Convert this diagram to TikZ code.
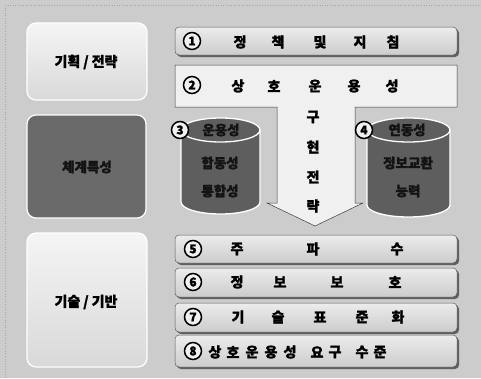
\documentclass[tikz,border=0pt]{standalone}
\usepackage{fontspec}
\newfontfamily\kr{Noto Sans CJK KR}[FakeBold=1.5]
\begin{document}
\begin{tikzpicture}[x=1pt,y=-1pt,
  lightbox/.style={rounded corners=9pt, top color=gray!8, bottom color=gray!30, draw=white, line width=1.2pt},
  darkbox/.style={rounded corners=9pt, fill=gray!70!black!90, draw=white, line width=1.2pt},
  bar/.style={rounded corners=4pt, top color=gray!15, bottom color=gray!40, draw=gray!70!black, line width=0.5pt},
  shadowbar/.style={rounded corners=4pt, fill=gray!75!black},
  cyl/.style={fill=gray!60!black!90, draw=white, line width=1.3pt},
  txt/.style={font=\kr\bfseries\fontsize{14}{16}\selectfont, inner sep=0pt},
  wtxt/.style={font=\kr\bfseries\fontsize{13.5}{15}\selectfont, inner sep=0pt, text=gray!15!black},
  num/.style={circle, fill=gray!12, draw=black, line width=1.5pt, minimum size=17pt, inner sep=0pt, font=\kr\bfseries\fontsize{12}{13}\selectfont},
]
\useasboundingbox (0,0) rectangle (481,378);
\fill[gray!40] (0,0) rectangle (481,378);
\draw[gray!70, dotted, line width=0.6pt] (5,5) -- (481,5);
\draw[gray!70, dotted, line width=0.6pt] (5,5) -- (5,378);

% left boxes
\draw[lightbox] (27,23) rectangle (147,100);
\node[txt] (lb1) at (86,62) {기획\hspace{3pt}/\hspace{3pt}전략};
\draw[darkbox] (27,115) rectangle (146,218);
\node[wtxt] (lb2) at (87,167) {체계특성};
\draw[lightbox] (27,233) rectangle (147,367);
\node[txt] (lb3) at (86,302) {기술\hspace{3pt}/\hspace{3pt}기반};

% bar 1
\fill[shadowbar] (177,29) rectangle (459,57);
\draw[bar] (175,27) rectangle (457,55);
\node[num] (n1) at (192,41) {1};
\node[txt] at (240,42) {정};
\node[txt] at (278,42) {책};
\node[txt] at (320,42) {및};
\node[txt] at (360,42) {지};
\node[txt] at (393,42) {침};

% box 2 with arrow
\draw[fill=gray!12, draw=gray!45!black, line width=0.5pt]
  (175,65) -- (457,65) -- (457,107) -- (355,107) -- (355,203) -- (363,203)
  -- (315,226) -- (267,203) -- (277,203) -- (277,107) -- (175,107) -- cycle;
\node[num] (n2) at (192,85) {2};
\node[txt] at (238,86) {상};
\node[txt] at (274,86) {호};
\node[txt] at (315,86) {운};
\node[txt] at (354,86) {용};
\node[txt] at (392,86) {성};
\node[txt] (g1) at (313,117) {구};
\node[txt] (g2) at (313,147) {현};
\node[txt] (g3) at (313,177) {전};
\node[txt] (g4) at (313,206) {략};

% cylinder 3
\draw[cyl] (181,130) -- (181,202) arc[start angle=180, end angle=360, x radius=39.5pt, y radius=12pt] -- (260,130);
\draw[cyl] (220.5,130) ellipse[x radius=39.5pt, y radius=12pt];
\node[num] (n3) at (180,130) {3};
\node[wtxt] at (221,130) {운용성};
\node[wtxt] at (220,163) {합동성};
\node[wtxt] at (220,191) {통합성};

% cylinder 4
\draw[cyl] (367,130) -- (367,205) arc[start angle=180, end angle=360, x radius=41.5pt, y radius=12pt] -- (450,130);
\draw[cyl] (408.5,130) ellipse[x radius=41.5pt, y radius=12pt];
\node[num] (n4) at (364,130) {4};
\node[wtxt] at (407,130) {연동성};
\node[wtxt] at (408,163) {정보교환};
\node[wtxt] at (408,191) {능력};

% bars 5-8
\fill[shadowbar] (177,237) rectangle (459,265);
\draw[bar] (175,235) rectangle (457,263);
\node[num] (n5) at (193,249) {5};
\node[txt] at (237,249) {주};
\node[txt] at (313,249) {파};
\node[txt] at (397,249) {수};

\fill[shadowbar] (177,270) rectangle (459,299);
\draw[bar] (175,268) rectangle (457,297);
\node[num] (n6) at (193,282) {6};
\node[txt] at (237,282) {정};
\node[txt] at (280,282) {보};
\node[txt] at (337,282) {보};
\node[txt] at (395,282) {호};

\fill[shadowbar] (177,305) rectangle (459,334);
\draw[bar] (175,303) rectangle (457,332);
\node[num] (n7) at (193,317) {7};
\node[txt] at (238,317) {기};
\node[txt] at (278,317) {술};
\node[txt] at (320,317) {표};
\node[txt] at (362,317) {준};
\node[txt] at (398,317) {화};

\fill[shadowbar] (177,337) rectangle (459,369);
\draw[bar] (175,335) rectangle (457,367);
\node[num] (n8) at (193,351) {8};
\node[txt] at (215,352) {상};
\node[txt] at (233,352) {호};
\node[txt] at (252,352) {운};
\node[txt] at (271,352) {용};
\node[txt] at (290,352) {성};
\node[txt] at (317,352) {요};
\node[txt] at (335,352) {구};
\node[txt] at (362,352) {수};
\node[txt] at (380,352) {준};
\end{tikzpicture}
\end{document}
